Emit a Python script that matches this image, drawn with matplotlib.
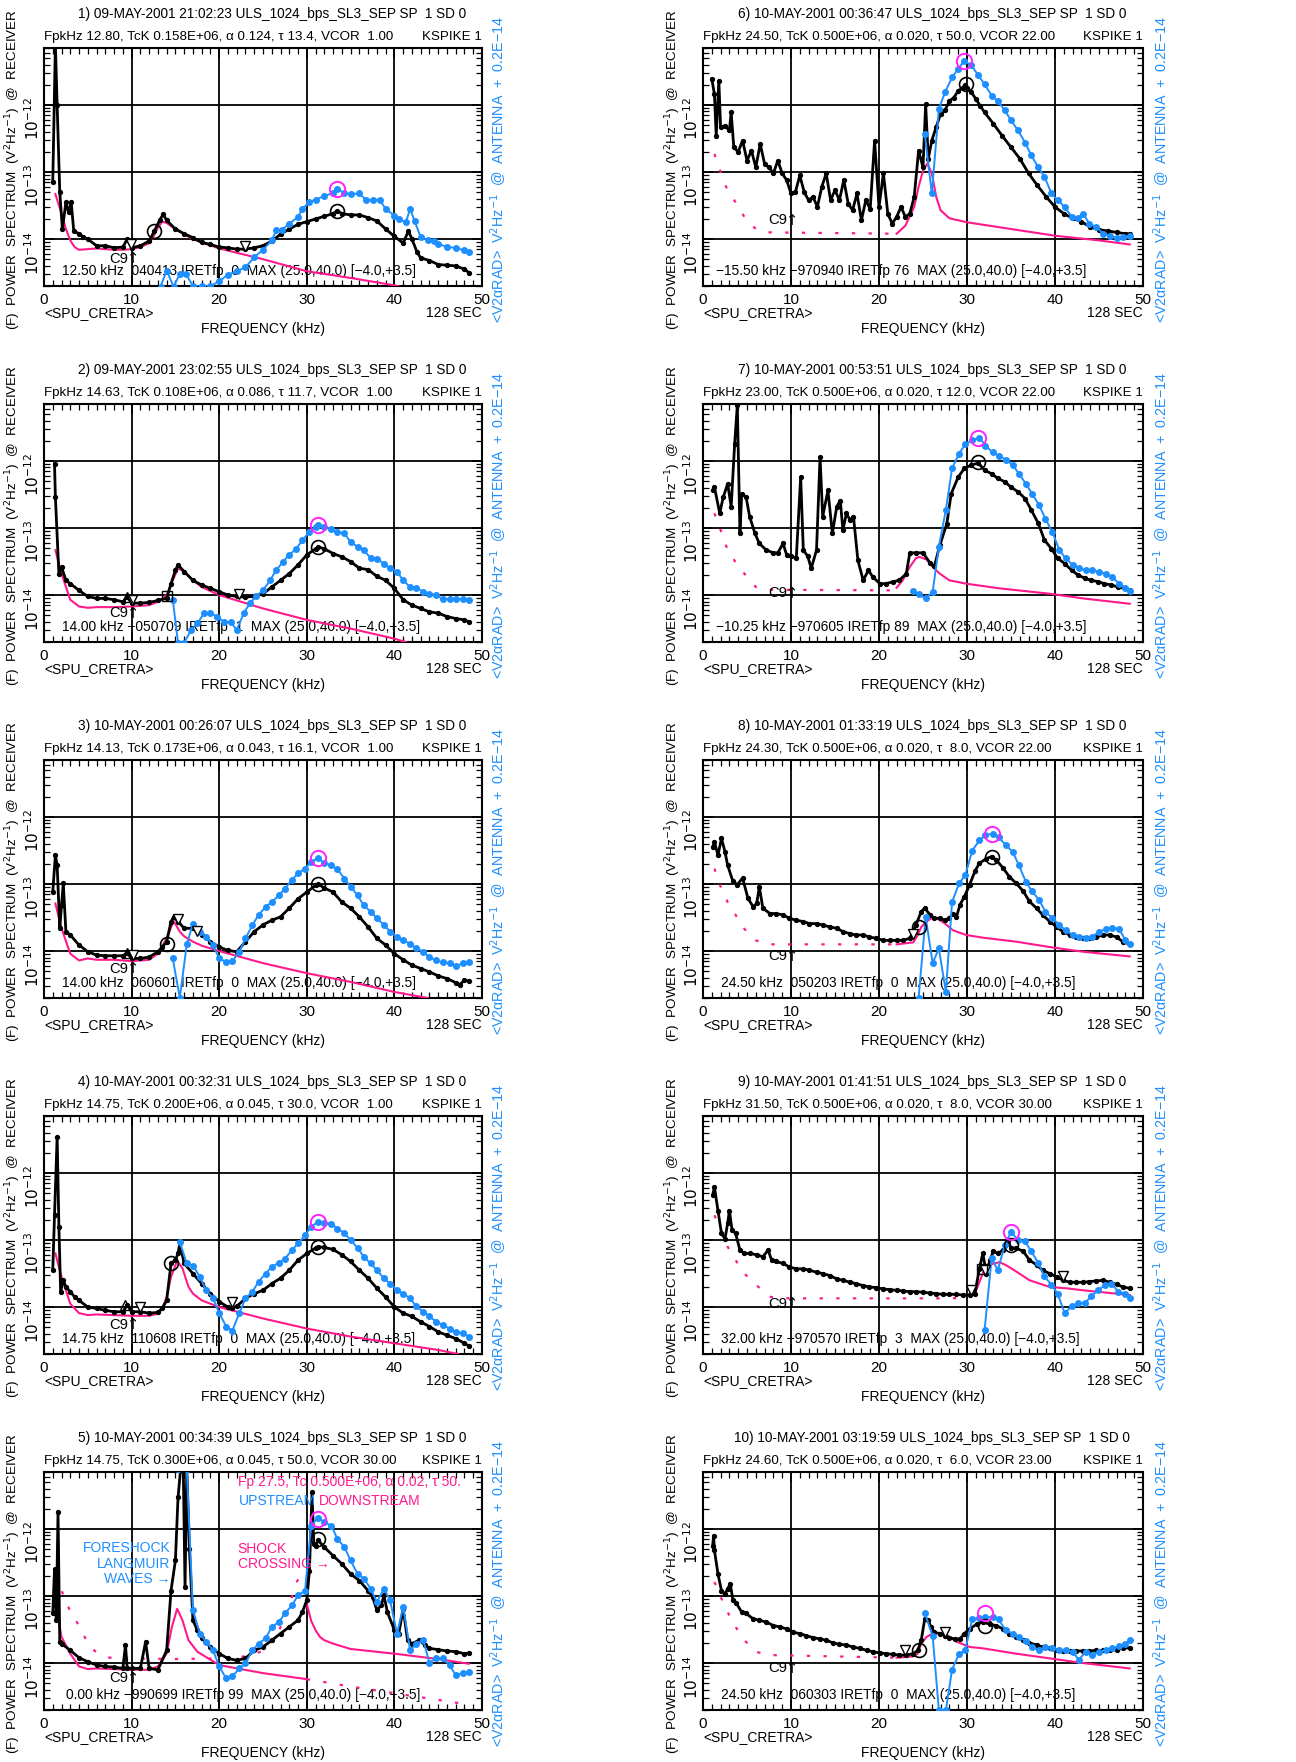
import numpy as np
import matplotlib
import matplotlib.pyplot as plt
from matplotlib.ticker import MultipleLocator, LogLocator, NullFormatter

plt.rcParams['font.family'] = ['Liberation Sans Narrow', 'Liberation Sans', 'DejaVu Sans']
plt.rcParams['mathtext.fontset'] = 'custom'
plt.rcParams['mathtext.rm'] = 'Liberation Sans Narrow'
plt.rcParams['mathtext.default'] = 'rm'

BLUE = '#1e8fff'
PINK = '#ff1a8c'
MAG = '#ff22ff'

# ---------------- data: (kHz, log10 V^2/Hz) ----------------
titles = ['1) 09-MAY-2001 21:02:23 ULS_1024_bps_SL3_SEP SP  1 SD 0',
          '2) 09-MAY-2001 23:02:55 ULS_1024_bps_SL3_SEP SP  1 SD 0',
          '3) 10-MAY-2001 00:26:07 ULS_1024_bps_SL3_SEP SP  1 SD 0',
          '4) 10-MAY-2001 00:32:31 ULS_1024_bps_SL3_SEP SP  1 SD 0',
          '5) 10-MAY-2001 00:34:39 ULS_1024_bps_SL3_SEP SP  1 SD 0',
          '6) 10-MAY-2001 00:36:47 ULS_1024_bps_SL3_SEP SP  1 SD 0',
          '7) 10-MAY-2001 00:53:51 ULS_1024_bps_SL3_SEP SP  1 SD 0',
          '8) 10-MAY-2001 01:33:19 ULS_1024_bps_SL3_SEP SP  1 SD 0',
          '9) 10-MAY-2001 01:41:51 ULS_1024_bps_SL3_SEP SP  1 SD 0',
          '10) 10-MAY-2001 03:19:59 ULS_1024_bps_SL3_SEP SP  1 SD 0']
params = ['FpkHz 12.80, TcK 0.158E+06, α 0.124, τ 13.4, VCOR  1.00',
          'FpkHz 14.63, TcK 0.108E+06, α 0.086, τ 11.7, VCOR  1.00',
          'FpkHz 14.13, TcK 0.173E+06, α 0.043, τ 16.1, VCOR  1.00',
          'FpkHz 14.75, TcK 0.200E+06, α 0.045, τ 30.0, VCOR  1.00',
          'FpkHz 14.75, TcK 0.300E+06, α 0.045, τ 50.0, VCOR 30.00',
          'FpkHz 24.50, TcK 0.500E+06, α 0.020, τ 50.0, VCOR 22.00',
          'FpkHz 23.00, TcK 0.500E+06, α 0.020, τ 12.0, VCOR 22.00',
          'FpkHz 24.30, TcK 0.500E+06, α 0.020, τ  8.0, VCOR 22.00',
          'FpkHz 31.50, TcK 0.500E+06, α 0.020, τ  8.0, VCOR 30.00',
          'FpkHz 24.60, TcK 0.500E+06, α 0.020, τ  6.0, VCOR 23.00']
infos = ['12.50 kHz  040413 IRETfp  0  MAX (25.0,40.0) [−4.0,+3.5]',
         '14.00 kHz −050709 IRETfp  1  MAX (25.0,40.0) [−4.0,+3.5]',
         '14.00 kHz  060601 IRETfp  0  MAX (25.0,40.0) [−4.0,+3.5]',
         '14.75 kHz  110608 IRETfp  0  MAX (25.0,40.0) [−4.0,+3.5]',
         '0.00 kHz −990699 IRETfp 99  MAX (25.0,40.0) [−4.0,+3.5]',
         '−15.50 kHz −970940 IRETfp 76  MAX (25.0,40.0) [−4.0,+3.5]',
         '−10.25 kHz −970605 IRETfp 89  MAX (25.0,40.0) [−4.0,+3.5]',
         '24.50 kHz  050203 IRETfp  0  MAX (25.0,40.0) [−4.0,+3.5]',
         '32.00 kHz −970570 IRETfp  3  MAX (25.0,40.0) [−4.0,+3.5]',
         '24.50 kHz  060303 IRETfp  0  MAX (25.0,40.0) [−4.0,+3.5]']

p1_black = [(1.0,-13.15),(1.3,-11.1),(1.5,-12.0),(1.8,-13.3),(2.1,-13.85),(2.5,-13.45),(2.8,-13.6),
            (3.1,-13.45),(3.4,-13.88),(4.0,-13.92),(4.5,-13.97),(5,-14.0),(6,-14.1),(7,-14.1),(8,-14.13),
            (9,-14.12),(9.5,-14.0),(10,-14.13),(11,-14.1),(12,-14.03),(12.6,-13.88),(13.2,-13.72),
            (13.6,-13.63),(14,-13.72),(15,-13.85),(16,-13.92),(17,-13.98),(18,-14.05),(19,-14.08),
            (20,-14.12),(21,-14.13),(22,-14.15),(23,-14.15),(24,-14.13),(25,-14.1),(26,-14.03),
            (27,-13.93),(28,-13.85),(29,-13.78),(30,-13.74),(31,-13.7),(32,-13.66),(33,-13.62),
            (33.5,-13.58),(34,-13.62),(35,-13.64),(36,-13.64),(37,-13.68),(38,-13.73),(39,-13.85),
            (40,-13.96),(41,-14.06),(41.6,-13.88),(42,-14.0),(42.6,-14.2),(43,-14.28),(44,-14.32),
            (45,-14.38),(46,-14.39),(47,-14.4),(48,-14.45),(48.5,-14.5)]
p1_blue = [(13.3,-14.71),(14.0,-14.47),(14.8,-14.71),(15.5,-14.52),(16.2,-14.52),(17,-14.7),(18,-14.7),
           (19,-14.7),(20,-14.63),(21,-14.53),(22,-14.48),(23,-14.42),(24,-14.27),(25,-14.16),(26,-14.02),
           (26.5,-13.87),(27.2,-13.86),(28,-13.77),(29,-13.67),(29.5,-13.55),(30.3,-13.45),(31,-13.41),
           (32,-13.36),(33,-13.31),(33.5,-13.25),(34.2,-13.31),(35,-13.33),(36,-13.32),(36.8,-13.42),
           (37.5,-13.42),(38.3,-13.41),(39,-13.55),(40,-13.65),(40.5,-13.7),(41.3,-13.75),(41.8,-13.55),
           (42.3,-13.73),(43,-13.97),(43.8,-14.01),(44.5,-14.03),(45,-14.07),(46,-14.12),(47,-14.13),
           (48,-14.17),(48.5,-14.2)]
p1_fit = [(1.3,-13.33),(2,-13.62),(2.5,-13.85),(3,-14.02),(3.5,-14.12),(4,-14.16),(5,-14.15),(6,-14.14),
          (7,-14.15),(8,-14.16),(9,-14.16),(10,-14.15),(11,-14.12),(12,-14.06),(12.5,-13.96),(13,-13.83),
          (13.5,-13.74),(14,-13.76),(15,-13.85),(16,-13.93),(17,-14.0),(18,-14.05),(20,-14.14),
          (25,-14.3),(30,-14.48),(35,-14.58),(40,-14.69),(40.6,-14.71)]

p2_black = [(1.2,-12.04),(1.3,-12.54),(1.7,-13.68),(2.0,-13.58),(2.5,-13.78),(3,-13.83),(4,-13.93),
            (5,-14.02),(6,-14.05),(7,-14.05),(8,-14.07),(9,-14.1),(9.5,-14.03),(10,-14.12),(11,-14.12),
            (12,-14.11),(13,-14.08),(14,-14.05),(14.5,-13.83),(15,-13.63),(15.3,-13.55),(16,-13.65),
            (17,-13.78),(18,-13.85),(19,-13.9),(20,-13.95),(21,-14.0),(22,-14.02),(23,-14.03),(24,-14.02),
            (25,-13.98),(26,-13.88),(27,-13.78),(28,-13.68),(29,-13.55),(30,-13.4),(31,-13.31),
            (31.3,-13.28),(32,-13.31),(33,-13.38),(34,-13.43),(35,-13.5),(36,-13.6),(37,-13.62),
            (38,-13.72),(39,-13.78),(40,-13.9),(41,-14.07),(42,-14.15),(43,-14.2),(44,-14.25),
            (45,-14.27),(46,-14.32),(47,-14.35),(48,-14.37),(48.5,-14.4)]
p2_blue = [(14.7,-14.07),(15.3,-14.71),(16.0,-14.71),(16.8,-14.52),(17.5,-14.42),(18.3,-14.27),
           (19.0,-14.27),(19.8,-14.32),(20.5,-14.4),(21.3,-14.4),(22.0,-14.52),(22.8,-14.27),
           (23.5,-14.12),(24.2,-14.02),(25,-13.93),(25.8,-13.78),(26.5,-13.63),(27.3,-13.5),(28,-13.4),
           (28.8,-13.31),(29.5,-13.18),(30.3,-13.06),(31,-12.98),(31.3,-12.95),(32,-12.98),(32.8,-13.01),
           (33.5,-13.06),(34.3,-13.08),(35,-13.21),(35.8,-13.28),(36.5,-13.33),(37.3,-13.45),
           (38,-13.46),(38.8,-13.53),(39.5,-13.6),(40.3,-13.65),(41,-13.78),(41.8,-13.88),
           (42.5,-13.89),(43.3,-13.95),(44,-13.98),(44.8,-14.0),(45.5,-14.06),(46.3,-14.06),
           (47,-14.06),(47.8,-14.06),(48.5,-14.07)]
p2_fit = [(1.3,-13.33),(2,-13.68),(3,-14.07),(4,-14.17),(5,-14.19),(6,-14.18),(8,-14.18),(10,-14.17),
          (12,-14.15),(13,-14.1),(14,-14.0),(14.7,-13.78),(15.3,-13.6),(16,-13.65),(17,-13.78),
          (18,-13.88),(20,-14.0),(25,-14.2),(30,-14.37),(35,-14.5),(40,-14.65),(41.5,-14.71)]

p3_black = [(1.0,-13.12),(1.3,-12.57),(1.5,-12.72),(1.8,-13.66),(2.0,-13.32),(2.2,-12.99),(2.5,-13.71),
            (3,-13.76),(4,-13.91),(5,-14.01),(6,-14.06),(7,-14.07),(8,-14.07),(9,-14.07),(9.5,-14.03),
            (10,-14.11),(11,-14.11),(12,-14.09),(13,-14.01),(13.5,-13.94),(14,-13.86),(14.5,-13.56),
            (14.8,-13.49),(15.3,-13.56),(16,-13.66),(17,-13.66),(18,-13.76),(19,-13.86),(20,-13.94),
            (21,-13.99),(22,-14.01),(23,-13.86),(24,-13.71),(25,-13.61),(26,-13.54),(27,-13.49),
            (28,-13.36),(29,-13.22),(30,-13.12),(31,-13.02),(31.3,-13.0),(32,-13.06),(33,-13.12),
            (34,-13.27),(35,-13.36),(36,-13.49),(37,-13.64),(38,-13.81),(39,-13.91),(40,-14.04),
            (41,-14.13),(42,-14.21),(43,-14.26),(44,-14.31),(45,-14.37),(46,-14.41),(47,-14.47),
            (47.5,-14.5),(48,-14.43),(48.5,-14.45)]
p3_blue = [(14.7,-14.11),(15.5,-14.7),(16.3,-13.9),(17,-13.59),(17.8,-13.71),(18.5,-13.79),(19.3,-13.91),
           (20,-14.11),(20.8,-14.16),(21.5,-14.15),(22.3,-14.01),(23,-13.81),(23.8,-13.61),(24.5,-13.46),
           (25.3,-13.34),(26,-13.27),(26.8,-13.17),(27.5,-13.07),(28.3,-12.94),(29,-12.84),(29.8,-12.77),
           (30.5,-12.67),(31.3,-12.61),(32,-12.69),(32.8,-12.72),(33.5,-12.78),(34.3,-12.92),(35,-13.04),
           (35.8,-13.17),(36.5,-13.32),(37.3,-13.41),(38,-13.51),(38.8,-13.61),(39.5,-13.71),
           (40.3,-13.79),(41,-13.84),(41.8,-13.89),(42.5,-13.96),(43.3,-14.01),(44,-14.09),
           (44.8,-14.14),(45.5,-14.17),(46.3,-14.18),(47,-14.23),(47.8,-14.18),(48.5,-14.16)]
p3_fit = [(1.3,-13.29),(2,-13.66),(3,-14.04),(4,-14.14),(5,-14.11),(6,-14.13),(8,-14.13),(10,-14.15),
          (12,-14.13),(13,-14.04),(14,-13.81),(14.8,-13.55),(15.5,-13.71),(16,-13.78),(17,-13.86),
          (18,-13.92),(20,-14.0),(25,-14.18),(30,-14.33),(35,-14.46),(40,-14.61),(43.8,-14.7)]

p4_black = [(1.0,-13.45),(1.2,-12.63),(1.5,-11.46),(1.7,-12.8),(1.9,-13.77),(2.2,-13.6),(2.5,-13.7),
            (3,-13.77),(3.5,-13.85),(4,-13.9),(5,-14.0),(6,-14.02),(7,-14.05),(8,-14.07),(9,-14.07),
            (9.5,-13.97),(10,-14.07),(11,-14.07),(12,-14.09),(13,-14.08),(13.5,-14.02),(14,-13.9),
            (14.5,-13.35),(15,-13.3),(15.3,-13.2),(15.5,-13.05),(16,-13.35),(17,-13.5),(18,-13.65),
            (19,-13.8),(20,-13.92),(21,-14.0),(21.5,-14.01),(22,-13.99),(23,-13.87),(24,-13.8),
            (25,-13.75),(26,-13.65),(27,-13.57),(28,-13.45),(29,-13.3),(30,-13.2),(31,-13.12),
            (31.3,-13.1),(32,-13.11),(33,-13.14),(34,-13.22),(35,-13.32),(36,-13.45),(37,-13.57),
            (38,-13.72),(39,-13.85),(40,-14.0),(41,-14.09),(42,-14.14),(43,-14.22),(44,-14.29),
            (45,-14.37),(46,-14.42),(47,-14.47),(48,-14.54),(48.5,-14.58)]
p4_blue = [(15.5,-13.03),(16.3,-13.35),(17,-13.38),(17.8,-13.55),(18.5,-13.75),(19.3,-13.87),(20,-14.09),
           (20.8,-14.29),(21.5,-14.35),(22.3,-14.09),(23,-13.87),(23.8,-13.77),(24.5,-13.62),(25.3,-13.5),
           (26,-13.4),(26.8,-13.34),(27.5,-13.28),(28.3,-13.15),(29,-13.05),(29.8,-12.93),(30.5,-12.8),
           (31.3,-12.73),(32,-12.74),(32.8,-12.76),(33.5,-12.83),(34.3,-12.9),(35,-13.0),(35.8,-13.12),
           (36.5,-13.25),(37.3,-13.35),(38,-13.45),(38.8,-13.57),(39.5,-13.65),(40.3,-13.75),
           (41,-13.8),(41.8,-13.87),(42.5,-13.99),(43.3,-14.07),(44,-14.14),(44.8,-14.22),
           (45.5,-14.27),(46.3,-14.32),(47,-14.37),(47.8,-14.39),(48.5,-14.44)]
p4_fit = [(1.3,-13.2),(2,-13.55),(3,-13.95),(4,-14.09),(5,-14.12),(6,-14.11),(8,-14.12),(10,-14.13),
          (12,-14.13),(13,-14.1),(13.5,-14.02),(14,-13.85),(14.5,-13.55),(15.2,-13.31),(15.8,-13.42),
          (16.5,-13.7),(17,-13.8),(18,-13.9),(20,-14.0),(25,-14.17),(30,-14.32),(35,-14.44),
          (40,-14.54),(45,-14.64),(47.3,-14.7)]

p5_black = [(1.0,-13.26),(1.2,-12.6),(1.4,-13.36),(1.6,-11.75),(1.8,-13.68),(2,-13.71),(3,-13.81),
            (4,-13.92),(5,-13.98),(6,-14.03),(7,-14.05),(8,-14.06),(9,-14.08),(9.3,-13.73),(9.5,-14.08),
            (10,-14.08),(11,-14.08),(11.6,-13.68),(12,-14.08),(13,-14.1),(14,-13.81),(14.5,-12.92),
            (15,-12.47),(15.3,-11.53),(15.6,-11.1),(15.9,-11.1),(16.1,-12.87),(16.3,-11.1),(16.6,-12.3),
            (17,-13.36),(17.5,-13.51),(18,-13.63),(19,-13.76),(20,-13.86),(21,-13.93),(22,-13.96),
            (23,-13.93),(24,-13.81),(25,-13.76),(26,-13.66),(27,-13.56),(28,-13.46),(29,-13.36),
            (29.5,-13.24),(30,-13.06),(30.3,-12.62),(30.6,-11.45),(30.8,-12.22),(31,-12.25),
            (31.3,-12.17),(32,-12.27),(33,-12.4),(34,-12.52),(35,-12.67),(36,-12.77),(37,-12.92),
            (37.5,-13.01),(38,-13.21),(38.5,-13.14),(38.8,-12.99),(39.2,-13.24),(40,-13.51),
            (40.5,-13.56),(41,-13.19),(41.5,-13.66),(42,-13.71),(42.8,-13.66),(43.5,-13.73),
            (44,-13.78),(45,-13.8),(46,-13.82),(47,-13.83),(48,-13.86),(48.5,-13.85)]
p5_blue = [(15.3,-11.1),(16.3,-11.1),(17,-13.21),(17.8,-13.56),(18.5,-13.68),(19.3,-13.81),(20,-14.05),
           (20.8,-14.23),(21.5,-14.2),(22.3,-14.08),(23,-14.0),(23.8,-13.81),(24.5,-13.71),
           (25.3,-13.63),(26,-13.46),(26.8,-13.39),(27.5,-13.26),(28.3,-13.14),(29,-12.99),
           (29.8,-12.92),(30.5,-11.95),(31.3,-11.83),(32,-11.9),(32.8,-11.95),(33.5,-12.15),
           (34.3,-12.27),(35,-12.47),(35.8,-12.67),(36.5,-12.74),(37.3,-12.89),(38,-13.09),
           (38.8,-12.89),(39.5,-13.06),(40.3,-13.56),(41,-13.16),(41.8,-13.81),(42.5,-13.71),
           (43.3,-13.66),(44,-14.0),(44.8,-13.92),(45.5,-13.93),(46.3,-14.03),(47,-14.18),
           (47.8,-14.15),(48.5,-14.14)]
p5_fit = [(1.3,-13.11),(2,-13.61),(3,-13.86),(4,-14.05),(5,-14.09),(6,-14.08),(8,-14.09),(10,-14.1),
          (12,-14.1),(13,-14.05),(14,-13.86),(14.6,-13.46),(15.2,-13.19),(15.8,-13.36),(16.5,-13.66),
          (17.5,-13.83),(19,-13.95),(20,-14.03),(25,-14.15),(30,-14.24)]
p5_fit_ext = [(30,-14.24),(35,-14.35),(40,-14.45),(45,-14.55),(48.5,-14.62)]
p5_fit2 = [(30.0,-13.12),(30.5,-13.37),(31,-13.51),(31.5,-13.61),(32,-13.66),(33,-13.71),(35,-13.79),
           (40,-13.86),(45,-13.94),(48.5,-14.01)]
p5_fit2_ext = [(1.3,-12.7),(3.0,-13.23),(3.9,-13.42),(4.8,-13.65),(5.8,-13.82),(7.5,-13.92),
               (10,-13.93),(15,-13.94),(20,-13.93),(23,-13.9),(25,-13.82),(26.5,-13.6),(27.7,-13.27),
               (28.8,-12.8),(29.5,-12.65)]

p6_black = [(1.0,-11.61),(1.3,-11.84),(1.5,-12.46),(1.8,-11.64),(2,-12.33),(2.5,-12.31),(3,-12.38),
            (3.2,-12.11),(3.5,-12.63),(4,-12.7),(4.5,-12.53),(5,-12.83),(5.5,-12.68),(6,-12.93),
            (6.5,-12.58),(7,-12.88),(7.5,-12.93),(8,-13.02),(8.5,-12.83),(9,-13.02),(9.5,-13.12),
            (10,-13.32),(10.5,-13.3),(11,-13.05),(11.5,-13.3),(12,-13.42),(12.5,-13.37),(13,-13.52),
            (13.5,-13.22),(14,-13.02),(14.5,-13.42),(15,-13.27),(15.5,-13.42),(16,-13.12),(16.5,-13.47),
            (17,-13.57),(17.5,-13.32),(18,-13.72),(18.5,-13.42),(19,-13.55),(19.5,-12.53),(20,-13.52),
            (20.5,-13.02),(21,-13.62),(21.5,-13.77),(22,-13.67),(22.5,-13.52),(23,-13.67),(23.5,-13.62),
            (24,-13.37),(24.5,-12.68),(25,-12.93),(25.3,-11.99),(25.6,-12.8),(26,-12.53),(26.5,-12.33),
            (27,-12.13),(27.5,-12.08),(28,-11.94),(28.5,-11.89),(29,-11.79),(29.5,-11.74),(29.8,-11.7),
            (30,-11.75),(30.5,-11.81),(31,-11.91),(31.5,-12.01),(32,-12.11),(33,-12.28),(34,-12.46),
            (35,-12.63),(36,-12.8),(37,-13.02),(38,-13.2),(39,-13.37),(40,-13.52),(41,-13.62),
            (42,-13.69),(43,-13.74),(44,-13.82),(45,-13.86),(46,-13.88),(47,-13.9),(48,-13.92),
            (48.5,-13.92)]
p6_blue = [(25.2,-12.43),(26.0,-13.32),(26.8,-12.06),(27.5,-11.81),(28.3,-11.59),(29,-11.46),
           (29.7,-11.34),(30.5,-11.41),(31.3,-11.56),(32,-11.69),(32.8,-11.86),(33.5,-11.94),
           (34.3,-12.08),(35,-12.23),(35.8,-12.38),(36.6,-12.56),(37.3,-12.75),(38.1,-12.93),
           (38.8,-13.07),(39.6,-13.32),(40.3,-13.42),(41.1,-13.52),(41.9,-13.67),(42.6,-13.69),
           (43.2,-13.62),(43.9,-13.77),(44.7,-13.82),(45.5,-13.92),(46.2,-13.95),(47,-13.98),
           (47.7,-13.97),(48.5,-13.95)]
p6_fit_ext = [(1.3,-12.73),(2.0,-13.0),(2.8,-13.28),(3.7,-13.45),(4.7,-13.67),(6.0,-13.85),(7.4,-13.9),
              (22.0,-13.92)]
p6_fit = [(22,-13.92),(23,-13.8),(24,-13.52),(24.5,-13.22),(25,-12.98),(25.5,-12.87),(26,-13.02),
          (26.5,-13.37),(27,-13.57),(28,-13.69),(30,-13.75),(35,-13.85),(40,-13.95),(45,-14.02),
          (48.5,-14.08)]

p7_black = [(1.1,-12.44),(1.3,-12.39),(1.9,-12.78),(2.3,-12.54),(2.8,-12.34),(3.2,-12.68),(3.6,-11.74),
            (3.9,-11.17),(4.2,-13.08),(4.4,-12.49),(4.9,-12.54),(5.3,-12.83),(5.9,-13.08),(6.4,-13.23),
            (7.2,-13.33),(8.0,-13.37),(8.5,-13.37),(9.1,-13.23),(9.5,-13.4),(10,-13.42),(10.6,-13.45),
            (11.1,-12.24),(11.4,-13.33),(11.9,-13.42),(12.3,-13.6),(12.9,-13.33),(13.3,-11.94),
            (13.6,-12.83),(14.2,-12.44),(14.7,-13.08),(15.2,-12.68),(15.6,-12.59),(15.9,-13.03),
            (16.3,-12.78),(16.7,-12.88),(17.1,-12.83),(17.6,-13.48),(18.2,-13.78),(18.8,-13.63),
            (19.3,-13.73),(20.1,-13.83),(20.8,-13.83),(21.6,-13.8),(22.3,-13.78),(23.1,-13.68),
            (23.5,-13.37),(24.2,-13.37),(25,-13.37),(25.8,-13.52),(26.3,-13.57),(26.9,-13.26),
            (27.7,-12.94),(28.2,-12.49),(29,-12.24),(29.7,-12.11),(30.5,-12.06),(31.3,-12.03),
            (32,-12.14),(32.8,-12.19),(33.5,-12.26),(34.3,-12.31),(35,-12.39),(35.8,-12.46),
            (36.6,-12.56),(37.3,-12.73),(38.1,-12.93),(38.8,-13.18),(39.6,-13.31),(40.3,-13.45),
            (41.1,-13.53),(41.9,-13.63),(42.6,-13.7),(43.4,-13.75),(44.1,-13.78),(44.9,-13.8),
            (45.6,-13.83),(46.4,-13.85),(47.2,-13.88),(47.9,-13.9),(48.5,-13.93)]
p7_blue = [(23.9,-13.94),(24.5,-13.99),(25.3,-14.05),(26.1,-13.95),(26.8,-13.28),(27.6,-12.73),
           (28.3,-12.11),(29.1,-11.89),(29.8,-11.75),(30.6,-11.69),(31.4,-11.65),(32.1,-11.77),
           (32.9,-11.87),(33.6,-11.92),(34.4,-11.98),(35.2,-12.06),(35.9,-12.19),(36.7,-12.34),
           (37.4,-12.49),(38.2,-12.66),(38.9,-12.86),(39.7,-13.06),(40.5,-13.33),(41.2,-13.45),
           (42,-13.55),(42.7,-13.6),(43.5,-13.63),(44.2,-13.63),(45,-13.65),(45.8,-13.68),
           (46.5,-13.73),(47.3,-13.83),(48,-13.89),(48.5,-13.94)]
p7_fit_ext = [(1.3,-12.78),(2.0,-13.03),(2.8,-13.33),(3.7,-13.51),(4.7,-13.68),(6.0,-13.88),(7.4,-13.92),
              (22.0,-13.93)]
p7_fit = [(22,-13.89),(22.7,-13.78),(23.5,-13.58),(24.2,-13.45),(24.6,-13.43),(25.4,-13.47),
          (26.1,-13.58),(26.9,-13.68),(28,-13.78),(29.9,-13.83),(33.7,-13.9),(39.4,-13.98),
          (43.2,-14.05),(48.5,-14.13)]

p8_black = [(1.1,-12.45),(1.3,-12.37),(1.7,-12.57),(2.1,-12.32),(2.5,-12.52),(2.8,-12.72),(3.4,-12.96),
            (3.9,-13.01),(4.5,-12.91),(5.1,-13.21),(5.7,-13.34),(6.1,-13.29),(6.4,-13.04),(6.8,-13.36),
            (7.6,-13.44),(8.3,-13.44),(9.1,-13.46),(9.8,-13.51),(10.6,-13.54),(11.4,-13.56),
            (12.1,-13.59),(12.9,-13.59),(13.6,-13.61),(14.4,-13.64),(15.2,-13.66),(15.9,-13.71),
            (16.7,-13.74),(17.4,-13.76),(18.2,-13.76),(18.9,-13.79),(19.7,-13.81),(20.5,-13.84),
            (21.2,-13.84),(22,-13.84),(22.7,-13.84),(23.5,-13.81),(24.2,-13.61),(24.8,-13.41),
            (25.2,-13.36),(25.8,-13.46),(26.3,-13.51),(26.9,-13.51),(27.5,-13.54),(28,-13.51),
            (28.4,-13.44),(28.8,-13.49),(29.2,-13.31),(29.7,-13.19),(30.3,-13.01),(30.9,-12.81),
            (31.4,-12.69),(32.2,-12.62),(32.8,-12.59),(33.3,-12.64),(34.1,-12.76),(34.8,-12.89),
            (35.6,-12.99),(36.4,-13.11),(37.1,-13.26),(37.9,-13.36),(38.6,-13.46),(39.4,-13.56),
            (40.2,-13.64),(40.9,-13.71),(41.7,-13.76),(42.4,-13.79),(43.2,-13.81),(43.9,-13.81),
            (44.7,-13.79),(45.5,-13.76),(46.2,-13.76),(47,-13.79),(47.7,-13.86),(48.5,-13.9)]
p8_blue = [(24.5,-14.7),(25.3,-13.49),(26.1,-14.18),(26.8,-13.96),(27.6,-14.61),(28.3,-13.27),
           (29.1,-12.99),(29.8,-12.87),(30.6,-12.5),(31.4,-12.35),(32.1,-12.27),(32.9,-12.25),
           (33.6,-12.3),(34.4,-12.42),(35.2,-12.52),(35.9,-12.72),(36.7,-12.97),(37.4,-13.11),
           (38.2,-13.24),(38.9,-13.41),(39.7,-13.51),(40.5,-13.61),(41.2,-13.69),(42,-13.76),
           (42.7,-13.79),(43.5,-13.8),(44.2,-13.79),(45,-13.71),(45.8,-13.67),(46.5,-13.65),
           (47.3,-13.67),(48,-13.84),(48.5,-13.9)]
p8_fit_ext = [(1.3,-12.77),(2.0,-13.04),(2.8,-13.27),(3.7,-13.46),(4.7,-13.67),(6.0,-13.84),(7.4,-13.9),
              (22.0,-13.9)]
p8_fit = [(22,-13.9),(23.9,-13.87),(24.4,-13.76),(24.8,-13.64),(25.6,-13.54),(26.1,-13.5),(26.7,-13.52),
          (27.5,-13.59),(28.4,-13.69),(29.9,-13.76),(31.8,-13.8),(35.6,-13.86),(39.4,-13.94),
          (43.2,-14.01),(48.5,-14.08)]

p9_black = [(1.1,-12.33),(1.3,-12.21),(1.7,-12.56),(2.1,-12.9),(2.5,-12.98),(2.8,-12.75),(3.0,-12.56),
            (3.3,-12.85),(3.7,-12.9),(4.2,-13.15),(4.7,-13.2),(5.3,-13.2),(6.1,-13.22),(6.8,-13.25),
            (7.4,-13.15),(7.8,-13.3),(8.3,-13.32),(9.1,-13.35),(9.8,-13.4),(10.6,-13.43),(11.4,-13.43),
            (12.1,-13.45),(12.9,-13.48),(13.6,-13.5),(14.4,-13.53),(15.2,-13.58),(15.9,-13.6),
            (16.7,-13.63),(17.4,-13.65),(18.2,-13.68),(18.9,-13.7),(19.7,-13.71),(20.5,-13.73),
            (21.2,-13.74),(22,-13.75),(22.7,-13.76),(23.5,-13.77),(24.2,-13.77),(25,-13.78),
            (25.8,-13.79),(26.5,-13.8),(27.3,-13.81),(28,-13.81),(28.8,-13.81),(29.5,-13.82),
            (30.3,-13.82),(30.9,-13.8),(31.4,-13.43),(31.8,-13.2),(32.2,-13.5),(32.6,-13.3),
            (33,-13.17),(33.5,-13.2),(34.1,-13.15),(34.7,-13.02),(35,-13.12),(35.6,-13.12),
            (36.4,-13.17),(37.1,-13.3),(37.9,-13.37),(38.6,-13.45),(39.4,-13.5),(40.2,-13.55),
            (40.9,-13.6),(41.7,-13.63),(42.4,-13.63),(43.2,-13.63),(43.9,-13.62),(44.7,-13.61),
            (45.5,-13.6),(46.2,-13.63),(47,-13.66),(47.7,-13.7),(48.5,-13.72)]
p9_blue = [(32.0,-14.34),(32.8,-13.27),(33.5,-13.45),(34.3,-13.07),(35,-12.88),(35.8,-13.0),
           (36.6,-13.02),(37.3,-13.17),(38.1,-13.34),(38.8,-13.54),(39.6,-13.67),(40.3,-13.8),
           (41.1,-14.09),(41.9,-13.99),(42.6,-13.94),(43.4,-13.94),(44.1,-13.84),(44.9,-13.75),
           (45.7,-13.67),(46.4,-13.65),(47.2,-13.77),(47.9,-13.8),(48.5,-13.87)]
p9_fit_ext = [(1.3,-12.63),(2.0,-12.85),(2.8,-13.1),(3.7,-13.3),(4.7,-13.5),(6.3,-13.7),(7.7,-13.85),
              (9.8,-13.87),(28,-13.87),(29.9,-13.86)]
p9_fit = [(29.9,-13.82),(30.9,-13.8),(31.4,-13.63),(32,-13.43),(32.8,-13.36),(33.7,-13.33),
          (34.5,-13.38),(35.6,-13.47),(37.1,-13.6),(39.4,-13.7),(41.3,-13.72),(43.2,-13.75),
          (47,-13.8),(48.5,-13.82)]

p10_black = [(1.1,-12.25),(1.2,-12.1),(1.3,-12.32),(1.7,-12.67),(2.1,-12.92),(2.5,-12.97),(2.8,-12.89),
             (3.1,-12.82),(3.4,-13.06),(3.8,-13.11),(4.4,-13.24),(4.9,-13.26),(5.7,-13.34),(6.4,-13.36),
             (7.2,-13.39),(8,-13.44),(8.7,-13.46),(9.5,-13.49),(10.2,-13.54),(11,-13.56),(11.7,-13.59),
             (12.5,-13.62),(13.3,-13.64),(14,-13.66),(14.8,-13.7),(15.5,-13.72),(16.3,-13.73),
             (17,-13.76),(17.8,-13.78),(18.6,-13.81),(19.3,-13.83),(20.1,-13.85),(20.8,-13.86),
             (21.6,-13.87),(22.3,-13.88),(23.1,-13.88),(23.9,-13.86),(24.4,-13.81),(24.8,-13.66),
             (25.2,-13.34),(25.6,-13.36),(25.9,-13.46),(26.3,-13.54),(26.9,-13.56),(27.5,-13.59),
             (28,-13.62),(28.6,-13.64),(29.2,-13.64),(29.7,-13.56),(30.3,-13.49),(31.1,-13.42),
             (31.8,-13.39),(32.6,-13.42),(33.3,-13.44),(34.1,-13.49),(34.8,-13.56),(35.6,-13.61),
             (36.4,-13.66),(37.1,-13.7),(37.9,-13.73),(38.6,-13.76),(39.4,-13.78),(40.2,-13.81),
             (40.9,-13.82),(41.7,-13.82),(42.4,-13.82),(43.2,-13.82),(43.9,-13.82),(44.7,-13.81),
             (45.5,-13.81),(46.2,-13.81),(47,-13.8),(47.7,-13.78),(48.5,-13.77)]
p10_blue = [(25.2,-13.25),(26.1,-13.6),(26.8,-14.7),(27.6,-14.7),(28.3,-14.1),(29.1,-13.86),
            (29.8,-13.81),(30.6,-13.34),(31.4,-13.33),(32.1,-13.31),(32.9,-13.32),(33.6,-13.35),
            (34.4,-13.51),(35.2,-13.56),(35.9,-13.61),(36.7,-13.67),(37.4,-13.76),(38.2,-13.81),
            (38.9,-13.76),(39.7,-13.78),(40.5,-13.8),(41.2,-13.81),(42,-13.83),(42.7,-13.95),
            (43.5,-13.83),(44.2,-13.88),(45,-13.83),(45.8,-13.81),(46.5,-13.78),(47.3,-13.75),
            (48,-13.71),(48.5,-13.66)]
p10_fit_ext = [(1.3,-12.79),(2.0,-13.01),(2.8,-13.24),(3.7,-13.46),(4.7,-13.66),(6.0,-13.83),
               (7.4,-13.88),(22.0,-13.92)]
p10_fit = [(22,-13.92),(23.9,-13.9),(24.4,-13.86),(24.8,-13.71),(25.4,-13.61),(26.1,-13.56),
           (26.9,-13.55),(27.7,-13.58),(28.8,-13.68),(30.3,-13.76),(31.8,-13.78),(35.6,-13.86),
           (39.4,-13.93),(43.2,-14.0),(48.5,-14.08)]

# feature marks: peak circles (black), antenna peak (magenta), triangles, squares, C9 label
black_circles = [[(12.6,-13.88),(33.5,-13.58)], [(31.3,-13.28)], [(14.0,-13.89),(31.3,-13.0)],
                 [(14.5,-13.35),(31.3,-13.1)], [(31.3,-12.15)], [(29.9,-11.69)], [(31.3,-12.01)],
                 [(24.5,-13.64),(32.8,-12.6)], [(35.0,-13.07)], [(24.5,-13.81),(32.0,-13.45)]]
blue_peaks = [(33.5,-13.25),(31.3,-12.95),(31.3,-12.61),(31.3,-12.73),(31.3,-11.85),
              (29.7,-11.34),(31.3,-11.65),(32.8,-12.25),(35.0,-12.88),(32.0,-13.25)]
tri_down = [[(9.9,-14.08),(23.0,-14.1)], [(10.1,-14.08),(22.3,-13.98)],
            [(10.2,-14.06),(15.3,-13.52),(17.5,-13.7)], [(11.0,-14.0),(21.5,-13.92)], [],
            [], [], [(23.9,-13.74)], [(30.5,-13.75),(32.0,-13.45),(40.9,-13.54)],
            [(23.0,-13.81),(27.5,-13.53)]]
tri_up = [[], [(9.5,-14.03)], [(9.5,-14.03)], [(9.3,-13.97)], [], [], [], [], [], []]
squares = [[], [(14.0,-14.02)], [], [], [], [], [], [], [(31.7,-13.43)], []]
c9_pos = [(7.5,-14.29),(7.5,-14.27),(7.5,-14.26),(7.5,-14.26),(7.5,-14.23),
          (7.4,-13.72),(7.4,-13.97),(7.4,-14.08),(7.4,-13.95),(7.4,-14.08)]
info_x = [2.0, 2.0, 2.0, 2.0, 2.5, 1.5, 1.5, 2.0, 2.0, 2.0]

blacks = [p1_black, p2_black, p3_black, p4_black, p5_black, p6_black, p7_black, p8_black, p9_black, p10_black]
blues = [p1_blue, p2_blue, p3_blue, p4_blue, p5_blue, p6_blue, p7_blue, p8_blue, p9_blue, p10_blue]
fits = [[p1_fit], [p2_fit], [p3_fit], [p4_fit], [p5_fit, p5_fit2], [p6_fit], [p7_fit], [p8_fit], [p9_fit], [p10_fit]]
fits_dot = [[], [], [], [], [p5_fit_ext, p5_fit2_ext], [p6_fit_ext], [p7_fit_ext], [p8_fit_ext],
            [p9_fit_ext], [p10_fit_ext]]


def xy(pairs):
    a = np.array(pairs, dtype=float)
    return a[:, 0], 10.0 ** a[:, 1]


W, H = 1296, 1762
fig = plt.figure(figsize=(W / 100, H / 100), dpi=100)
FS = 9.6

for i in range(10):
    col, row = i // 5, i % 5
    left_px = [44, 703][col]
    width_px = [438, 440][col]
    top_px = 48 + row * 356
    ax = fig.add_axes([left_px / W, 1 - (top_px + 238) / H, width_px / W, 238 / H])
    ax.set_yscale('log')
    ax.set_xlim(0, 50)
    ax.set_ylim(10 ** -14.70, 10 ** -11.15)

    # grid and frame
    ax.set_xticks([0, 10, 20, 30, 40, 50])
    ax.xaxis.set_minor_locator(MultipleLocator(1))
    ax.set_yticks([1e-14, 1e-13, 1e-12])
    ax.set_yticklabels([r'$10^{-14}$', r'$10^{-13}$', r'$10^{-12}$'])
    ax.yaxis.set_minor_locator(LogLocator(base=10, subs=np.arange(2, 10), numticks=20))
    ax.yaxis.set_minor_formatter(NullFormatter())
    ax.grid(True, which='major', color='black', lw=1.3)
    ax.tick_params(which='both', direction='in', top=True, right=True, color='black')
    ax.tick_params(which='major', length=7, width=1.2, labelsize=11)
    ax.tick_params(which='minor', length=4, width=0.9)
    ax.tick_params(axis='y', which='major', labelrotation=90, pad=1.5, labelsize=11)
    ax.tick_params(axis='x', which='major', pad=5)
    for sp in ax.spines.values():
        sp.set_linewidth(1.5)

    # fitted model curves
    for seg in fits[i]:
        f, v = xy(seg)
        ax.plot(f, v, color=PINK, lw=1.5, zorder=3)
    for seg in fits_dot[i]:
        f, v = xy(seg)
        ax.plot(f, v, color=PINK, lw=1.6, ls=(0, (1.5, 6)), zorder=3)

    # receiver spectrum
    f, v = xy(blacks[i])
    ax.plot(f, v, color='black', lw=0.9, zorder=4)
    ax.plot(f, v, color='black', lw=2.0, marker='o', ms=2.8, zorder=4)

    # antenna spectrum
    f, v = xy(blues[i])
    ax.plot(f, v, color=BLUE, lw=1.4, marker='o', ms=4, zorder=5)

    # feature marks
    for (cf, cv) in black_circles[i]:
        ax.plot(cf, 10 ** cv, marker='o', ms=10, mfc='none', mec='black', mew=1.2, zorder=6)
    bf, bv = blue_peaks[i]
    ax.plot(bf, 10 ** bv, marker='o', ms=11, mfc='none', mec=MAG, mew=1.4, zorder=6)
    for (tf, tv) in tri_down[i]:
        ax.plot(tf, 10 ** tv, marker='v', ms=7, mfc='white', mec='black', mew=1.0, zorder=6)
    for (tf, tv) in tri_up[i]:
        ax.plot(tf, 10 ** tv, marker='^', ms=7, mfc='none', mec='black', mew=1.0, zorder=6)
    for (sf, sv) in squares[i]:
        ax.plot(sf, 10 ** sv, marker='s', ms=7, mfc='none', mec='black', mew=1.0, zorder=6)

    cx, cy = c9_pos[i]
    ax.text(cx, 10 ** cy, 'C9', fontsize=FS + 1, ha='left', va='center', zorder=7)
    ax.text(cx + 1.9, 10 ** cy, '↑', fontsize=FS + 1, ha='left', va='center', zorder=7,
            family=['DejaVu Sans'])
    ax.text(info_x[i], 10 ** -14.48, infos[i], fontsize=FS + 0.3, ha='left', va='center', zorder=0.5)

    # labels around the frame
    ax.annotate(titles[i], xy=(0.5, 1), xycoords='axes fraction', xytext=(9, 34),
                textcoords='offset pixels', ha='center', va='center', fontsize=FS + 0.2)
    ax.annotate(params[i], xy=(0, 1), xycoords='axes fraction', xytext=(0, 11),
                textcoords='offset pixels', ha='left', va='center', fontsize=FS)
    ax.annotate('KSPIKE 1', xy=(1, 1), xycoords='axes fraction', xytext=(0, 11),
                textcoords='offset pixels', ha='right', va='center', fontsize=FS)
    ax.annotate('<SPU_CRETRA>', xy=(0, 0), xycoords='axes fraction', xytext=(0, -27),
                textcoords='offset pixels', ha='left', va='center', fontsize=FS + 0.4)
    ax.annotate('128 SEC', xy=(1, 0), xycoords='axes fraction', xytext=(0, -27),
                textcoords='offset pixels', ha='right', va='center', fontsize=FS + 0.4)
    ax.annotate('FREQUENCY (kHz)', xy=(0.5, 0), xycoords='axes fraction', xytext=(0, -43),
                textcoords='offset pixels', ha='center', va='center', fontsize=FS + 0.4)
    ax.annotate(r'(F)  POWER  SPECTRUM  (V$^2$Hz$^{-1}$)  @  RECEIVER', xy=(0, 0.5),
                xycoords='axes fraction', xytext=([-31, -30][col], -3), textcoords='offset pixels',
                ha='center', va='center', rotation=90, fontsize=9.7)
    ax.annotate(r'<V2αRAD>  V$^2$Hz$^{-1}$  @  ANTENNA  +  0.2E−14', xy=(1, 0.5),
                xycoords='axes fraction', xytext=([17, 19][col], -3), textcoords='offset pixels',
                ha='center', va='center', rotation=90, fontsize=10.3, color=BLUE)

    if i == 4:
        ax.text(22.2, 10 ** -11.30, 'Fp 27.5, Tc 0.500E+06, α 0.02, τ 50.', color=PINK,
                fontsize=FS + 0.4, ha='left', va='center', zorder=7)
        ax.text(22.3, 10 ** -11.59, 'UPSTREAM', color=BLUE, fontsize=FS + 0.4, ha='left', va='center', zorder=7)
        ax.text(31.4, 10 ** -11.59, 'DOWNSTREAM', color=PINK, fontsize=FS + 0.4, ha='left', va='center', zorder=7)
        ax.text(14.4, 10 ** -12.52, 'FORESHOCK\nLANGMUIR\nWAVES →', color=BLUE, fontsize=FS + 0.4,
                ha='right', va='center', linespacing=1.15, multialignment='right', zorder=7)
        ax.text(22.1, 10 ** -12.41, 'SHOCK\nCROSSING →', color=PINK, fontsize=FS + 0.4,
                ha='left', va='center', linespacing=1.15, zorder=7)

fig.savefig('out.png', dpi=100)
